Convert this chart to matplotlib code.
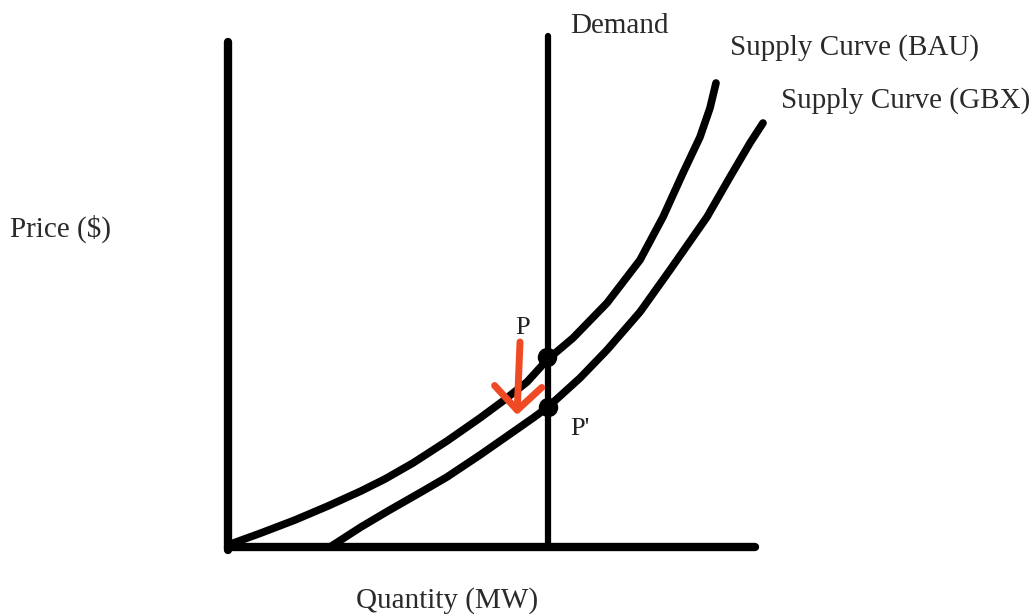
import matplotlib.pyplot as plt

# positions in image units (x to the right, y downwards)
bau_x = [228, 261, 295, 328, 361, 385, 413, 447, 480, 503, 527, 547,
         573, 607, 640, 663, 683, 700, 710, 716]
bau_y = [545, 533, 520, 506, 491, 479, 463, 441, 418, 401, 382, 360,
         338, 303, 260, 217, 173, 137, 108, 83]

gbx_x = [330, 361, 388, 423, 447, 480, 513, 533, 548, 580, 607, 640,
         670, 707, 730, 750, 763]
gbx_y = [547, 527, 511, 491, 477, 455, 432, 418, 407, 378, 350, 312,
         270, 217, 177, 143, 123]

demand_x = [548, 548]
demand_y = [547, 36]

price_axis_x = [228, 228]
price_axis_y = [550, 42]
qty_axis_x = [228, 755]
qty_axis_y = [547, 547]

points_x = [547, 548]
points_y = [357, 407]

fig = plt.figure(figsize=(10.36, 6.16), dpi=100)
ax = fig.add_axes([0, 0, 1, 1])
ax.set_xlim(0, 1036)
ax.set_ylim(616, 0)
ax.axis('off')

kw = dict(color='black', solid_capstyle='round', solid_joinstyle='round')
ax.plot(price_axis_x, price_axis_y, lw=6, **kw)
ax.plot(qty_axis_x, qty_axis_y, lw=6, **kw)
ax.plot(demand_x, demand_y, lw=4.5, **kw)
ax.plot(bau_x, bau_y, lw=5.5, **kw)
ax.plot(gbx_x, gbx_y, lw=5.5, **kw)
ax.plot(points_x, points_y, 'o', color='black', ms=13)

# price drop arrow
ax.annotate('', xy=(517, 415), xytext=(520, 342),
            arrowprops=dict(arrowstyle='->,head_length=1.7,head_width=1.7',
                            color='#ef4a24', lw=5, capstyle='round',
                            shrinkA=0, shrinkB=0))

font = dict(family='Liberation Serif', fontsize=21, color='#2a2a2a')
ax.text(570, 26, 'Demand', ha='left', va='center', **font)
ax.text(730, 48, 'Supply Curve (BAU)', ha='left', va='center', **font)
ax.text(781, 101, 'Supply Curve (GBX)', ha='left', va='center', **font)
ax.text(10, 229, 'Price ($)', ha='left', va='center', **font)
ax.text(447, 601, 'Quantity (MW)', ha='center', va='center', **font)
ax.text(523, 328, 'P', ha='center', va='center', family='Liberation Serif',
        fontsize=19, color='#222222')
ax.text(580, 429, "P'", ha='center', va='center', family='Liberation Serif',
        fontsize=19, color='#222222')

fig.savefig('out.png', dpi=100)
